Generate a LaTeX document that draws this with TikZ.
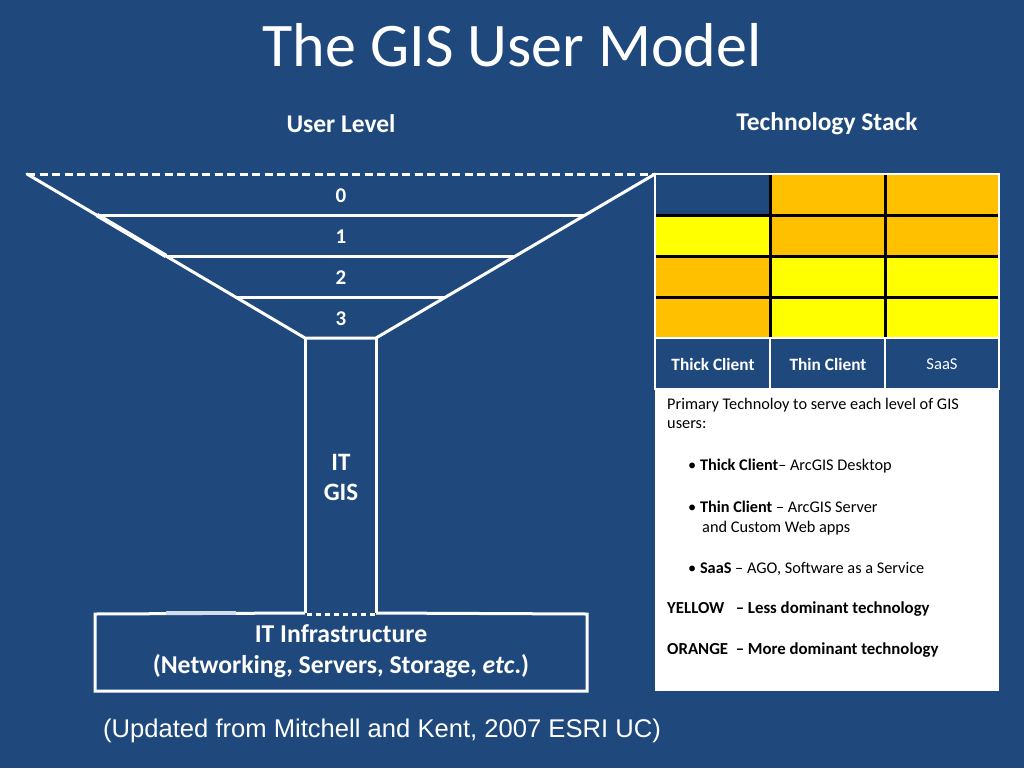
\documentclass[tikz,border=0pt]{standalone}
\usepackage{fontspec}
\setmainfont{Carlito}
\newfontfamily\arialf{Liberation Sans}
\definecolor{bg}{HTML}{1F497D}
\definecolor{orng}{HTML}{FFC000}
\definecolor{yllw}{HTML}{FFFF00}
\definecolor{litseg}{HTML}{D3DEEC}
\tikzset{
  wline/.style={draw=white,line width=3pt},
  lvl/.style={text=white,font=\bfseries\fontsize{21}{25}\selectfont},
  hdr/.style={text=white,font=\bfseries\fontsize{17.3}{20}\selectfont},
  boxtxt/.style={text=black,anchor=west,inner sep=0pt,font=\fontsize{16.3}{19}\selectfont},
  boxbold/.style={boxtxt,font=\bfseries\fontsize{16.8}{19}\selectfont},
}
\begin{document}
\begin{tikzpicture}[x=1pt,y=-1pt]
\fill[bg] (0,0) rectangle (1024,768);
\useasboundingbox (0,0) rectangle (1024,768);

% title and headings
\node[text=white,font=\fontsize{62}{70}\selectfont] (title) at (512,45) {The GIS User Model};
\node[text=white,font=\bfseries\fontsize{25.5}{30}\selectfont] (ul) at (341,124) {User Level};
\node[text=white,font=\bfseries\fontsize{25.5}{30}\selectfont] (ts) at (827,124) {Technology Stack};

% funnel
\coordinate (tl) at (27,174);
\coordinate (tr) at (655,174);
\coordinate (sl) at (305,338);
\coordinate (sr) at (376,338);
\coordinate (bl) at (305,613);
\coordinate (br) at (376,613);
\draw[draw=white,line width=3pt,dash pattern=on 8pt off 4.5pt] (tl) -- (tr);
\draw[wline,line cap=round] (tl) -- (sl) -- (sr) -- (tr);
\draw[draw=white,line width=4.5pt] (97,215) -- (166,256);
\draw[wline] (97,215) -- (585,215);
\draw[wline] (166,256) -- (515,256);
\draw[wline] (235,297) -- (446,297);
\draw[wline] (sl) -- (bl);
\draw[wline] (sr) -- (br);

\node[lvl] (l0) at (341,196) {0};
\node[lvl] (l1) at (341,237) {1};
\node[lvl] (l2) at (341,278) {2};
\node[lvl] (l3) at (341,319) {3};
\node[lvl,align=center,font=\bfseries\fontsize{25}{30}\selectfont] (itgis) at (341,477) {IT\\GIS};

% infrastructure box
\draw[wline] (bl) -- (95,614) -- (95,691) -- (587,691) -- (587,614) -- (br);
\draw[draw=white,line width=3pt,dash pattern=on 4.5pt off 4.5pt] (307,614) -- (376,614);
\draw[draw=litseg,line width=4pt] (166,613) -- (236,613);
\node[text=white,align=center,font=\bfseries\fontsize{25.7}{31}\selectfont] (infra) at (341,651)
  {IT Infrastructure\\(Networking, Servers, Storage, \textit{etc}.)};

% caption
\node[text=white,font=\arialf\fontsize{25.6}{30}\selectfont] (cap) at (382,731)
  {(Updated from Mitchell and Kent, 2007 ESRI UC)};

% technology table
\fill[orng] (770,174) rectangle (999,215);
\fill[yllw] (655,215) rectangle (770,256);
\fill[orng] (770,215) rectangle (999,256);
\fill[orng] (655,256) rectangle (770,338);
\fill[yllw] (770,256) rectangle (999,338);
\draw[black,line width=3pt] (655,215) -- (999,215);
\draw[black,line width=3pt] (655,256) -- (999,256);
\draw[black,line width=3pt] (655,297) -- (999,297);
\draw[black,line width=3pt] (770,174) -- (770,338);
\draw[black,line width=3pt] (885,174) -- (885,338);
\draw[draw=white,line width=2pt] (655,174) -- (999,174) -- (999,389) -- (655,389) -- cycle;
\draw[draw=white,line width=2pt] (655,338) -- (999,338);
\draw[draw=white,line width=2pt] (770,338) -- (770,389);
\draw[draw=white,line width=2pt] (885,338) -- (885,389);
\node[hdr] (thick) at (713,364) {Thick Client};
\node[hdr] (thin) at (828,364) {Thin Client};
\node[text=white,font=\fontsize{16.6}{19}\selectfont] (saas) at (942,364) {SaaS};

% legend box
\fill[white] (655,389) rectangle (999,691);
\node[boxtxt] (p1) at (667,405) {Primary Technoloy to serve each level of GIS};
\node[boxtxt] (p2) at (667,425) {users:};
\node[boxtxt] (b1) at (688,466) {\textbullet\ \textbf{Thick Client}– ArcGIS Desktop};
\node[boxtxt] (b2) at (688,507) {\textbullet\ \textbf{Thin Client} – ArcGIS Server};
\node[boxtxt] (b2b) at (702,528) {and Custom Web apps};
\node[boxtxt] (b3) at (688,569) {\textbullet\ \textbf{SaaS} – AGO, Software as a Service};
\node[boxbold] (yel) at (667,609) {YELLOW\ \ \ – Less dominant technology};
\node[boxbold] (ora) at (667,650) {ORANGE\ \ – More dominant technology};
\end{tikzpicture}
\end{document}
